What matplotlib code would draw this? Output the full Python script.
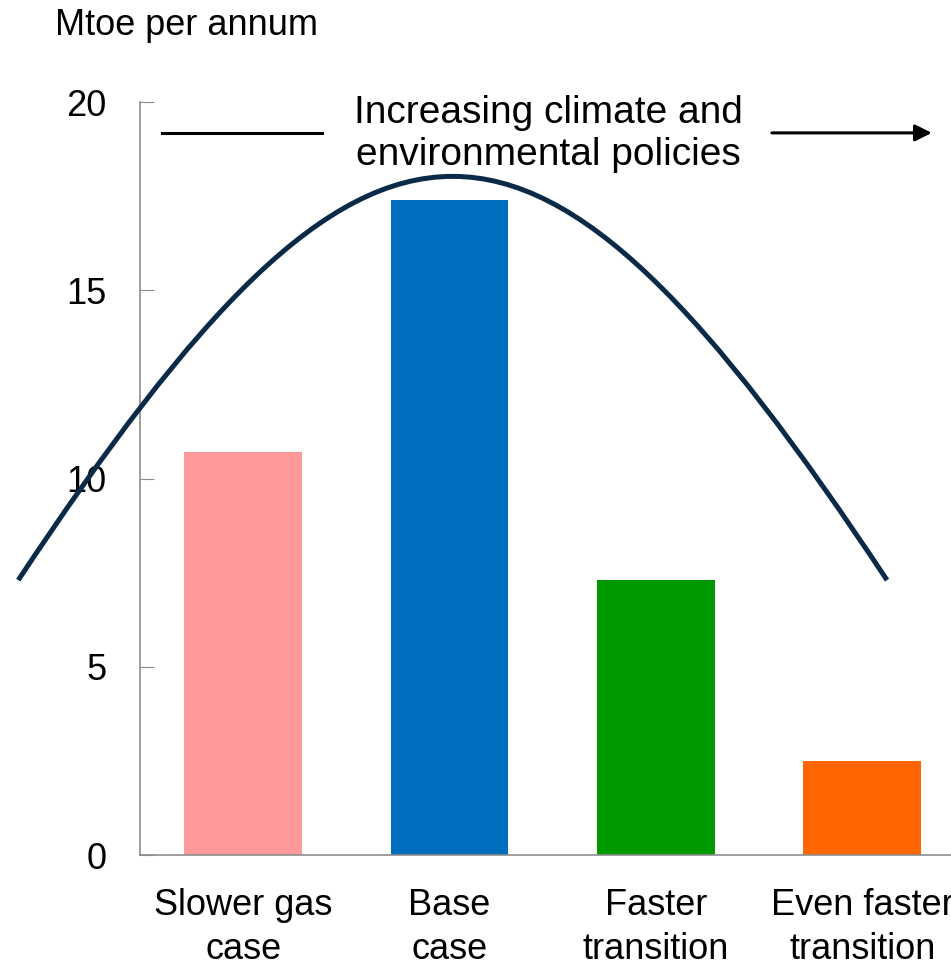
import numpy as np
import matplotlib.pyplot as plt
from matplotlib.path import Path
from matplotlib.patches import PathPatch

# data
cases = ['Slower gas\ncase', 'Base\ncase', 'Faster\ntransition', 'Even faster\ntransition']
values = [10.7, 17.4, 7.3, 2.5]
colors = ['#FF9999', '#006EBF', '#009900', '#FF6600']
yticks = [0, 5, 10, 15, 20]

# bell-shaped arc (start, two control points, end) in data units
arc_x = [-1.09, 0.64, 1.39, 3.12]
arc_y = [7.3, 21.6, 21.6, 7.3]

plt.rcParams['font.family'] = ['Liberation Sans', 'DejaVu Sans']
grey = '#8c8c8c'

fig = plt.figure(figsize=(9.51, 9.66), dpi=100)
ax = fig.add_axes([0.1472, 0.1149, 0.8528, 0.7795])

x = np.arange(len(cases))
ax.bar(x, values, width=0.57, color=colors, zorder=2)

ax.set_xlim(-0.5, 3.43)
ax.set_ylim(0, 20)
ax.set_yticks(yticks)
ax.set_xticks(x)
ax.set_xticklabels(cases, fontsize=26, linespacing=1.32)
ax.tick_params(axis='x', length=0, pad=24)
ax.tick_params(axis='y', direction='in', length=10, color=grey, labelsize=26, pad=24)

for s in ['top', 'right']:
    ax.spines[s].set_visible(False)
for s in ['left', 'bottom']:
    ax.spines[s].set_color(grey)
    ax.spines[s].set_linewidth(1.2)

# arc
verts = list(zip(arc_x, arc_y))
path = Path(verts, [Path.MOVETO, Path.CURVE4, Path.CURVE4, Path.CURVE4])
ax.add_patch(PathPatch(path, facecolor='none', edgecolor='#0b2a48', lw=3.6,
                       clip_on=False, zorder=3))

# policy arrow
ax.plot([-0.392, 0.383], [19.18, 19.18], color='black', lw=2.2, clip_on=False)
ax.annotate('', xy=(3.337, 19.18), xytext=(2.562, 19.18),
            arrowprops=dict(arrowstyle='-|>', color='black', lw=2.2,
                            mutation_scale=25, shrinkA=0, shrinkB=0),
            annotation_clip=False)
ax.text(1.477, 19.14, 'Increasing climate and\nenvironmental policies',
        ha='center', va='center', fontsize=28, linespacing=1.22)

fig.text(0.058, 0.974, 'Mtoe per annum', fontsize=26, va='center', ha='left')

plt.savefig('out.png', dpi=100)
